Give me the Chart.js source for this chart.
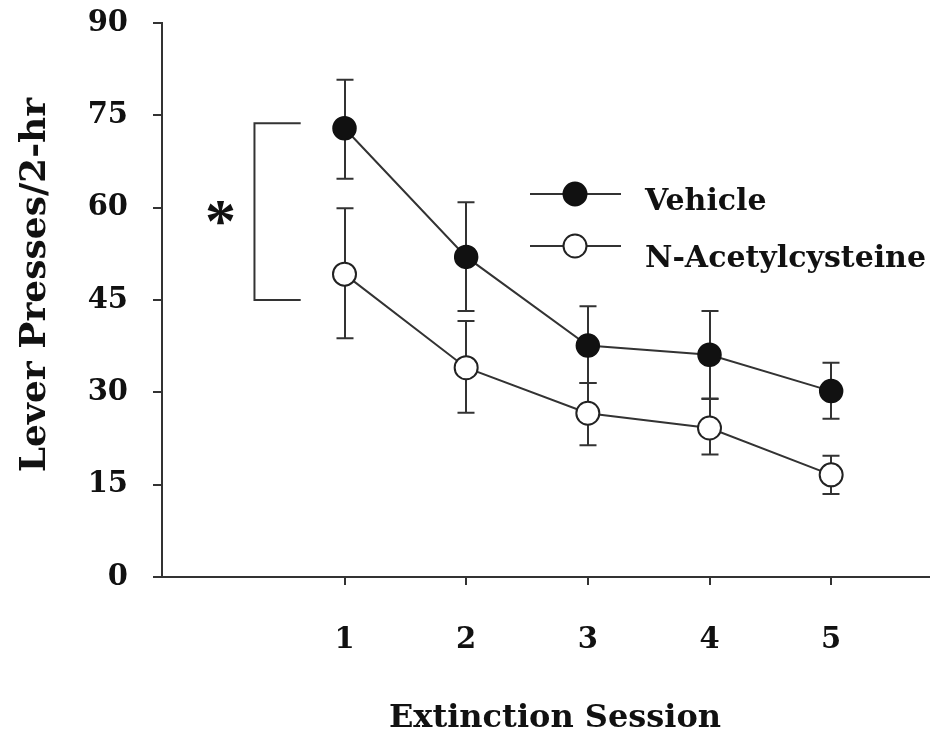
<!DOCTYPE html>
<html><head><meta charset="utf-8">
<script src="https://cdn.jsdelivr.net/npm/chart.js@4.4.1/dist/chart.umd.min.js"></script>
<style>html,body{margin:0;padding:0;background:#fff;}#wrap{width:942px;height:736px;position:relative;}</style>
</head><body><div id="wrap"><canvas id="c" width="942" height="736"></canvas></div>
<script>
const sessions = [1, 2, 3, 4, 5];
const vehicleMean  = [72.9, 52.0, 37.6, 36.1, 30.2];
const vehicleUpper = [80.8, 60.9, 44.0, 43.2, 34.8];
const vehicleLower = [64.7, 43.2, 31.5, 28.9, 25.7];
const nacMean  = [49.2, 34.0, 26.6, 24.2, 16.6];
const nacUpper = [59.9, 41.6, 31.5, 29.0, 19.7];
const nacLower = [38.8, 26.7, 21.4, 19.9, 13.5];
const yTicks = [0, 15, 30, 45, 60, 75, 90];
const bracketX = [0.64, 0.26, 0.26, 0.64];
const bracketY = [73.7, 73.7, 45, 45];
const starX = -0.02, starY = 59.1;
const seriesNames = ['Vehicle', 'N-Acetylcysteine'];
const xTitle = 'Extinction Session';
const yTitle = 'Lever Presses/2-hr';

const INK = '#111';
const LINE = '#333';
const FONT = '"DejaVu Serif"';

const pts = (xs, ys) => xs.map((x, i) => ({x: x, y: ys[i]}));
const zeroPad = s => { s.paddingLeft = 0; s.paddingRight = 0; s.paddingTop = 0; s.paddingBottom = 0; };

const errorBars = {
  id: 'errorBars',
  beforeDatasetsDraw(chart) {
    const ctx = chart.ctx, xs = chart.scales.x, ys = chart.scales.y;
    ctx.save();
    ctx.strokeStyle = LINE; ctx.lineWidth = 2;
    const draw = (up, lo) => {
      sessions.forEach((s, i) => {
        const px = Math.round(xs.getPixelForValue(s));
        const yu = ys.getPixelForValue(up[i]), yl = ys.getPixelForValue(lo[i]);
        ctx.beginPath();
        ctx.moveTo(px, yu); ctx.lineTo(px, yl);
        ctx.moveTo(px - 8.5, yu); ctx.lineTo(px + 8.5, yu);
        ctx.moveTo(px - 8.5, yl); ctx.lineTo(px + 8.5, yl);
        ctx.stroke();
      });
    };
    draw(vehicleUpper, vehicleLower);
    draw(nacUpper, nacLower);
    ctx.restore();
  }
};

const extras = {
  id: 'extras',
  afterDraw(chart) {
    const ctx = chart.ctx, xs = chart.scales.x, ys = chart.scales.y;
    ctx.save();
    // asterisk
    ctx.fillStyle = INK;
    ctx.font = 'bold 62px "Liberation Serif"';
    const m = ctx.measureText('*');
    const cx = xs.getPixelForValue(starX), cy = ys.getPixelForValue(starY);
    const w = m.actualBoundingBoxRight + m.actualBoundingBoxLeft;
    ctx.textBaseline = 'alphabetic'; ctx.textAlign = 'left';
    ctx.fillText('*', cx - w / 2 + m.actualBoundingBoxLeft, cy + (m.actualBoundingBoxAscent - m.actualBoundingBoxDescent) / 2);

    // legend
    const legendRows = [
      {y: 194, fill: '#111', stroke: '#111', text: seriesNames[0], base: 210},
      {y: 246, fill: '#fff', stroke: '#222', text: seriesNames[1], base: 267}
    ];
    legendRows.forEach(r => {
      ctx.strokeStyle = LINE; ctx.lineWidth = 2;
      ctx.beginPath(); ctx.moveTo(530, r.y); ctx.lineTo(621, r.y); ctx.stroke();
      ctx.beginPath(); ctx.arc(575, r.y, 11.5, 0, Math.PI * 2);
      ctx.fillStyle = r.fill; ctx.fill();
      ctx.lineWidth = 2; ctx.strokeStyle = r.stroke; ctx.stroke();
      ctx.fillStyle = INK;
      ctx.font = 'bold 30px ' + FONT;
      ctx.textAlign = 'left'; ctx.textBaseline = 'alphabetic';
      ctx.fillText(r.text, 645, r.base);
    });

    // axis titles
    ctx.fillStyle = INK;
    ctx.font = 'bold 32px ' + FONT;
    ctx.textAlign = 'center'; ctx.textBaseline = 'alphabetic';
    ctx.fillText(xTitle, 555, 727);
    ctx.save();
    ctx.translate(45, 285);
    ctx.rotate(-Math.PI / 2);
    ctx.font = 'bold 36px ' + FONT;
    ctx.fillText(yTitle, 0, 0);
    ctx.restore();
    ctx.restore();
  }
};

new Chart(document.getElementById('c'), {
  type: 'line',
  data: {
    datasets: [
      {
        label: seriesNames[0],
        data: pts(sessions, vehicleMean),
        borderColor: LINE, borderWidth: 2,
        pointRadius: 11.5, pointHoverRadius: 11.5,
        pointBackgroundColor: '#111', pointBorderColor: '#111', pointBorderWidth: 1.5,
        tension: 0
      },
      {
        label: seriesNames[1],
        data: pts(sessions, nacMean),
        borderColor: LINE, borderWidth: 2,
        pointRadius: 11.5, pointHoverRadius: 11.5,
        pointBackgroundColor: '#fff', pointBorderColor: '#222', pointBorderWidth: 2,
        tension: 0
      },
      {
        label: 'bracket',
        data: pts(bracketX, bracketY),
        borderColor: LINE, borderWidth: 2,
        pointRadius: 0, tension: 0
      }
    ]
  },
  options: {
    responsive: false,
    animation: false,
    devicePixelRatio: 1,
    events: [],
    layout: {padding: {left: 88, top: 23, right: 2, bottom: 0}},
    plugins: {legend: {display: false}, tooltip: {enabled: false}},
    scales: {
      x: {
        type: 'linear', min: -0.5, max: 5.80,
        afterBuildTicks: s => { s.ticks = sessions.map(v => ({value: v})); },
        afterFit: s => { s.height = 159; zeroPad(s); },
        border: {display: true, color: LINE, width: 2},
        grid: {drawOnChartArea: false, drawTicks: true, tickLength: 8, color: LINE, lineWidth: 2},
        ticks: {color: INK, font: {family: FONT, weight: 'bold', size: 29}, padding: 38,
                callback: v => String(v)},
        title: {display: false}
      },
      y: {
        type: 'linear', min: 0, max: 90,
        afterBuildTicks: s => { s.ticks = yTicks.map(v => ({value: v})); },
        afterFit: s => { s.width = 74; zeroPad(s); },
        border: {display: true, color: LINE, width: 2},
        grid: {drawOnChartArea: false, drawTicks: true, tickLength: 9, color: LINE, lineWidth: 2},
        ticks: {color: INK, font: {family: FONT, weight: 'bold', size: 29}, padding: 25,
                callback: v => String(v)},
        title: {display: false}
      }
    }
  },
  plugins: [errorBars, extras]
});
</script>
</body></html>
